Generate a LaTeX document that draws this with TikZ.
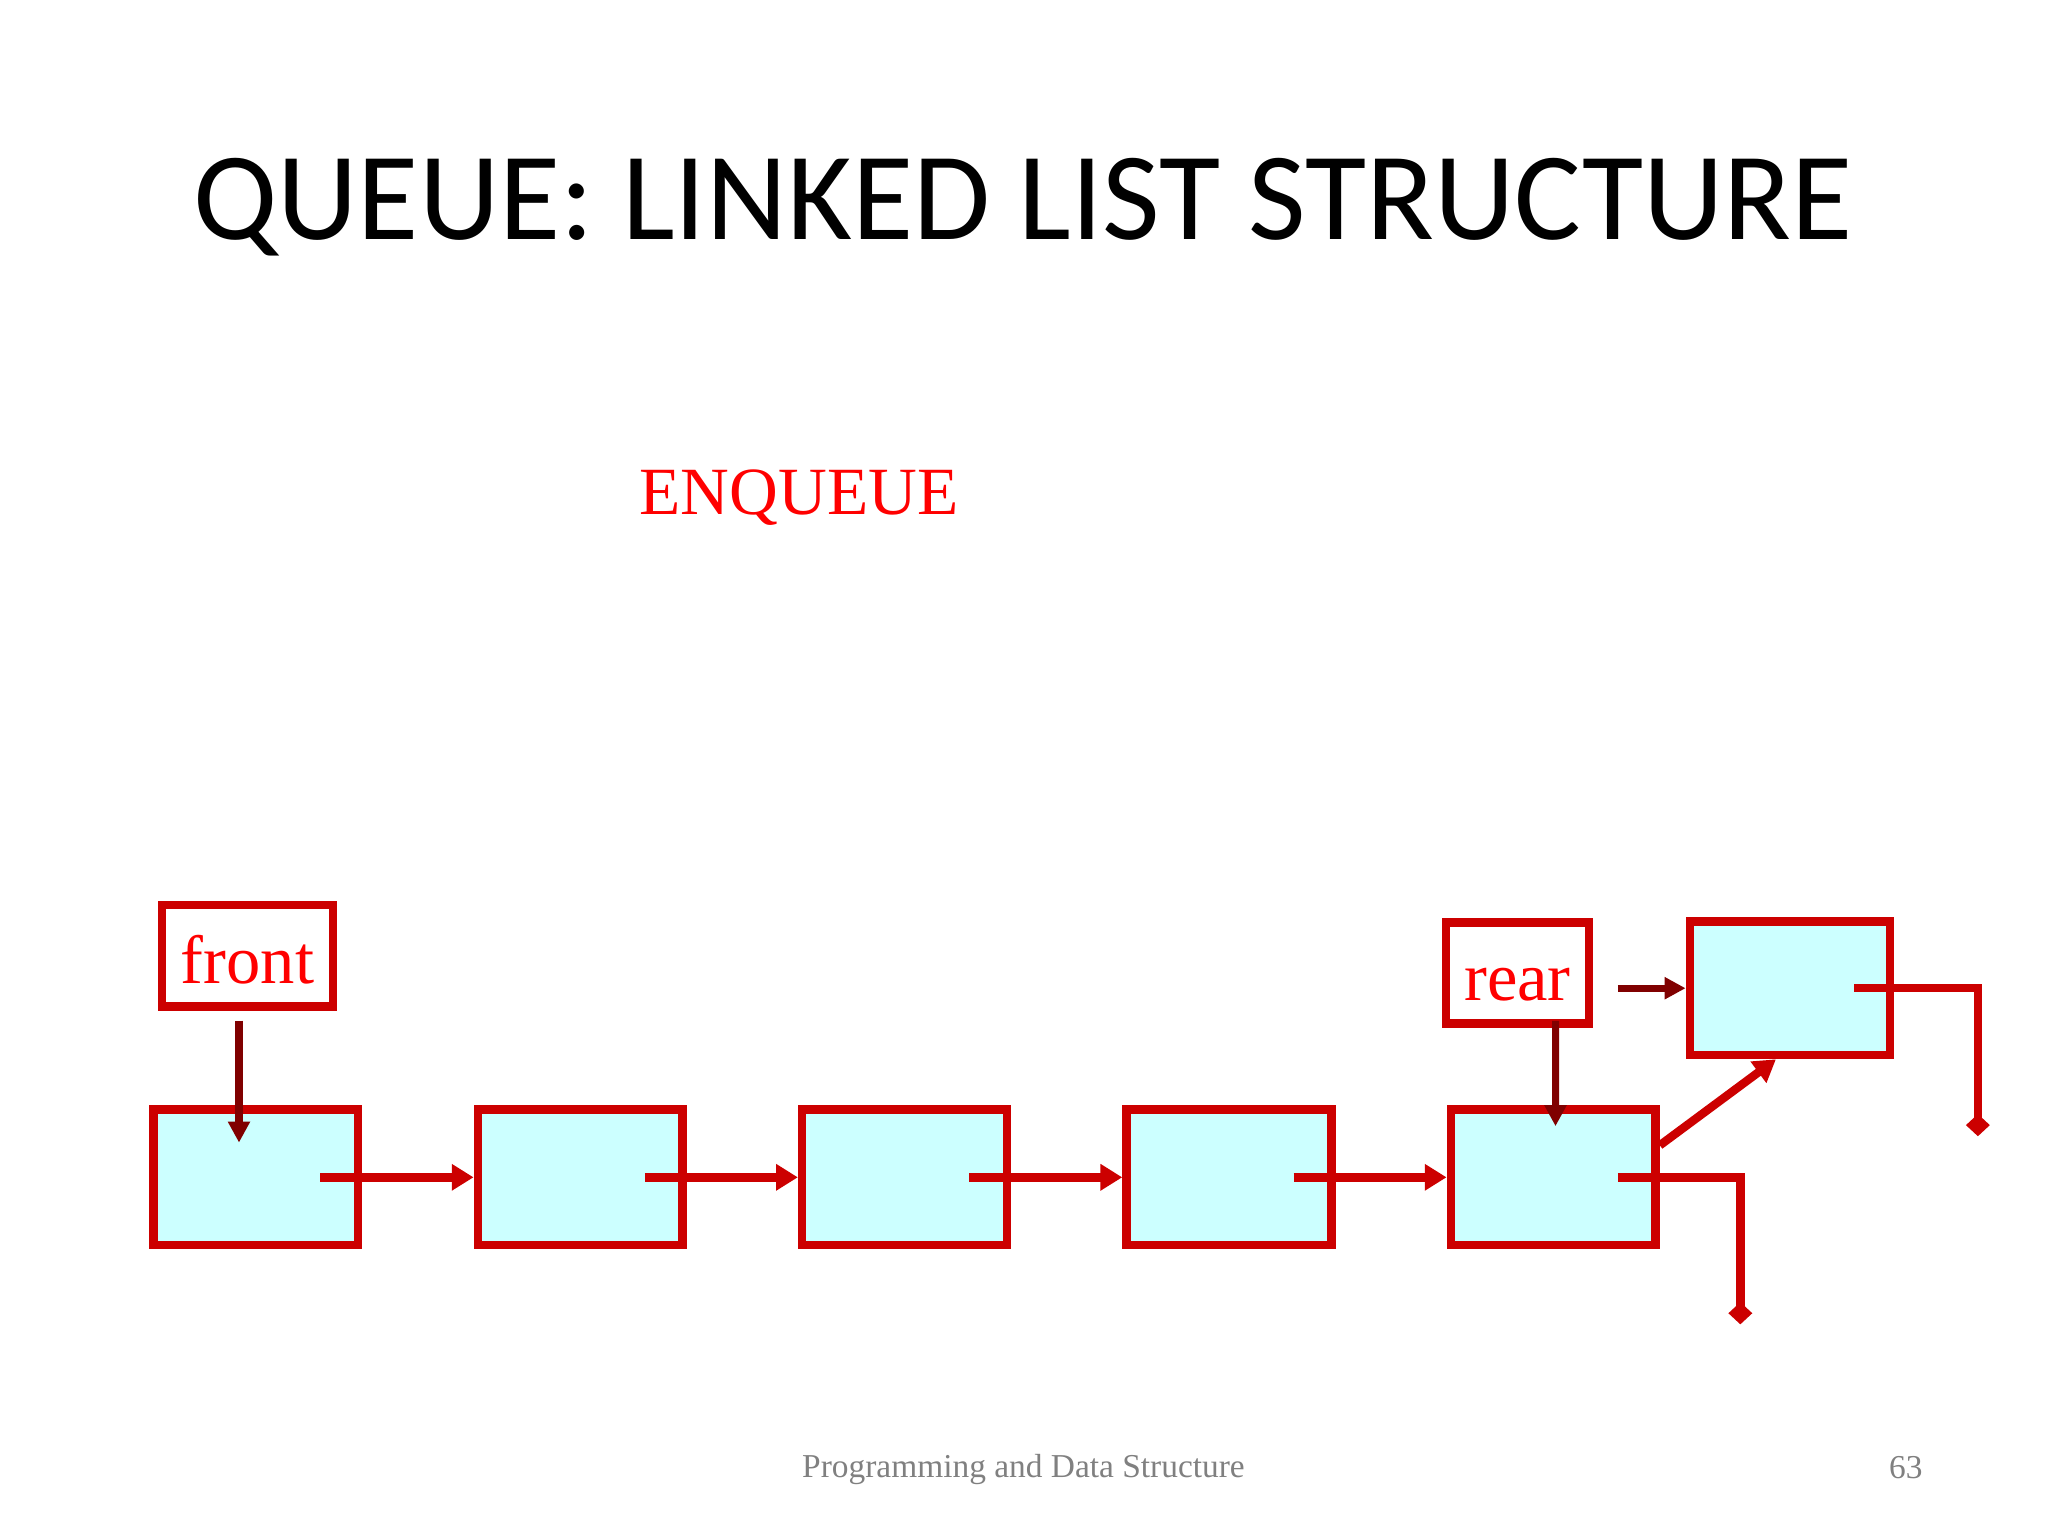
\documentclass[tikz,border=0pt]{standalone}
\usepackage{fontspec}
\setmainfont{Liberation Serif}
\newfontfamily\titlefont{Carlito}
\usetikzlibrary{arrows.meta,calc}

\definecolor{boxred}{HTML}{CC0000}
\definecolor{cellcyan}{HTML}{CCFFFF}
\definecolor{ptrred}{HTML}{800000}
\definecolor{labred}{HTML}{FF0000}
\definecolor{footgray}{HTML}{808080}

\begin{document}
\begin{tikzpicture}[x=0.01cm, y=-0.01cm,
    cell/.style={draw=boxred, fill=cellcyan, line width=2.4pt, minimum width=2.047cm, minimum height=1.357cm, inner sep=0pt},
    tag/.style={draw=boxred, fill=white, line width=2.4pt, inner sep=0pt, text=labred, text height=15.6pt, text depth=0pt, font=\fontsize{19.5}{23}\selectfont},
    link/.style={draw=boxred, line width=2.4pt, -{Triangle[length=6.2pt,width=7.2pt]}},
    nil/.style={draw=boxred, line width=2.4pt, -{Diamond[length=6.3pt,width=6.8pt]}},
    ptr/.style={draw=ptrred, line width=2pt, -{Triangle[length=6pt,width=6pt]}}]
			%%%%% START %%%%%
			
			\useasboundingbox (0, 0) rectangle (2048, 1536);
			
			\node[anchor=base, font=\titlefont\fontsize{35.6}{40}\selectfont] (title) at (1023, 239) {QUEUE: LINKED LIST STRUCTURE};
			\node[anchor=base, text=labred, font=\fontsize{19.2}{23}\selectfont] (enq) at (799, 514) {ENQUEUE};
			
			\node[cell] (n1) at (255.8, 1177.3) {};
			\node[cell] (n2) at (580.2, 1177.3) {};
			\node[cell] (n3) at (904.5, 1177.3) {};
			\node[cell] (n4) at (1228.9, 1177.3) {};
			\node[cell] (n5) at (1553.2, 1177.3) {};
			\node[cell, minimum width=2cm, minimum height=1.337cm] (new) at (1789.9, 988.2) {};
			
			\node[tag, minimum width=1.713cm, minimum height=1.012cm] (front) at (247.5, 955.7) {front};
			\node[tag, minimum width=1.433cm, minimum height=1.011cm] (rear) at (1517.5, 973) {rear};
			
			\draw[link] ([shift={(-42, 0)}]n1.east) -- (n2.west);
			\draw[link] ([shift={(-42, 0)}]n2.east) -- (n3.west);
			\draw[link] ([shift={(-42, 0)}]n3.east) -- (n4.west);
			\draw[link] ([shift={(-42, 0)}]n4.east) -- (n5.west);
			\draw[nil] ([shift={(-42, 0)}]n5.east) -| ([shift={(80.5, 147)}]n5.east);
			\draw[nil] ([shift={(-40, 0)}]new.east) -| ([shift={(83.7, 148)}]new.east);
			\draw[link] ([shift={(0, -32)}]n5.east) -- ([shift={(-14, 0)}]new.south);
			
			\draw[ptr] ([shift={(-8.5, 10)}]front.south) -- ([shift={(-16.8, 37.4)}]n1.north);
			\draw[ptr] ([shift={(38, -7)}]rear.south) -- ([shift={(2.3, 21)}]n5.north);
			\draw[ptr] ([shift={(24.4, 15.2)}]rear.east) -- (new.west);
			
			\node[anchor=base, text=footgray, font=\fontsize{9.5}{11}\selectfont] (foot) at (1023.5, 1477) {Programming and Data Structure};
			\node[anchor=base east, inner sep=0pt, text=footgray, font=\fontsize{9.5}{11}\selectfont] (page) at (1923.3, 1478) {63};
			
			%%%%% END %%%%%
\end{tikzpicture}
\end{document}
